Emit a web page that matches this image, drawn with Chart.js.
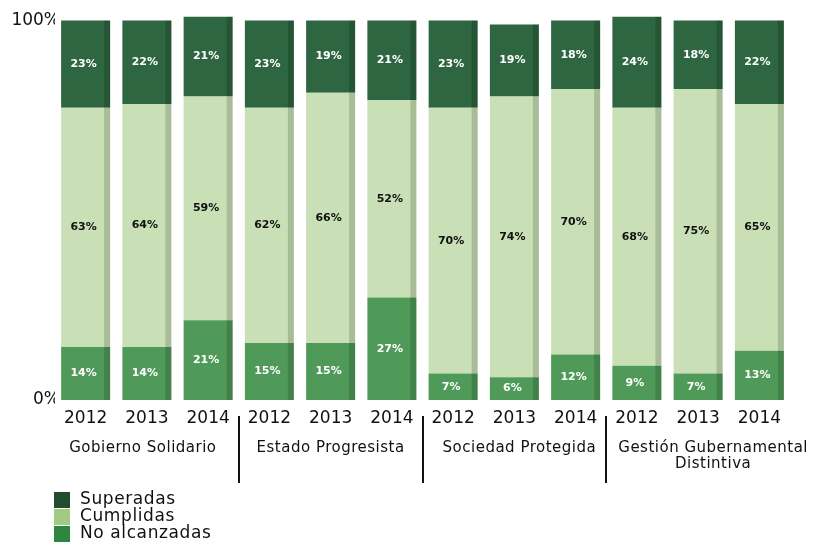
<!DOCTYPE html>
<html><head><meta charset="utf-8">
<script src="https://cdn.jsdelivr.net/npm/chart.js@4"></script>
<style>html,body{margin:0;padding:0;background:#fff;}#wrap{width:817px;height:545px;}</style>
</head><body><div id="wrap"><canvas id="c" width="817" height="545"></canvas></div>
<script>
const years = ['2012','2013','2014','2012','2013','2014','2012','2013','2014','2012','2013','2014'];
const groups = ['Gobierno Solidario','Estado Progresista','Sociedad Protegida','Gestión Gubernamental|Distintiva'];
const noAlcanzadas = [14,14,21,15,15,27,7,6,12,9,7,13];
const cumplidas    = [63,64,59,62,66,52,70,74,70,68,75,65];
const superadas    = [23,22,21,23,19,21,23,19,18,24,18,22];
const yTicks = [0,100];
const FONT = '"DejaVu Sans", "Noto Sans", sans-serif';
const groupShift = [-4, 0, 5, 15];

const sidePlugin = {
  id:'side',
  afterDatasetsDraw(chart){
    const ctx = chart.ctx;
    chart.data.datasets.forEach((ds,i)=>{
      const meta = chart.getDatasetMeta(i);
      meta.data.forEach(bar=>{
        const w = 6;
        const x = bar.x + bar.width/2 - w;
        const top = Math.min(bar.y, bar.base), h = Math.abs(bar.base - bar.y);
        ctx.save();
        ctx.fillStyle = 'rgba(0,0,0,0.16)';
        ctx.fillRect(x, top, w, h);
        ctx.restore();
      });
    });
  }
};
const labelPlugin = {
  id:'vals',
  afterDatasetsDraw(chart){
    const ctx = chart.ctx;
    ctx.save();
    ctx.font = 'bold 11px ' + FONT;
    ctx.textAlign='center'; ctx.textBaseline='middle';
    chart.data.datasets.forEach((ds,i)=>{
      const meta = chart.getDatasetMeta(i);
      meta.data.forEach((bar,j)=>{
        ctx.fillStyle = ds.labelColor;
        ctx.fillText(ds.data[j]+'%', bar.x-2, (bar.y+bar.base)/2);
      });
    });
    ctx.restore();
  }
};
const groupPlugin = {
  id:'groups',
  afterDraw(chart){
    const ctx = chart.ctx, xs = chart.scales.x;
    ctx.save();
    ctx.fillStyle='#111'; ctx.font='15px '+FONT; ctx.textAlign='center'; ctx.textBaseline='middle';
    ctx.letterSpacing = '0.5px';
    groups.forEach((g,i)=>{
      const cx = (xs.getPixelForValue(i*3) + xs.getPixelForValue(i*3+2))/2 + groupShift[i];
      const lines = g.split('|');
      lines.forEach((l,k)=>ctx.fillText(l, cx, 448 + k*16));
    });
    ctx.strokeStyle='#111'; ctx.lineWidth=2;
    for(let i=1;i<groups.length;i++){
      const x = Math.round((xs.getPixelForValue(i*3-1)+xs.getPixelForValue(i*3))/2);
      ctx.beginPath(); ctx.moveTo(x,416); ctx.lineTo(x,483); ctx.stroke();
    }
    // legend
    ctx.font='17px '+FONT; ctx.textAlign='left';
    ctx.letterSpacing = '0.6px';
    const ds = chart.data.datasets.slice().reverse();
    ds.forEach((d,k)=>{
      const y = 492 + k*17;
      ctx.fillStyle = d.legendColor;
      ctx.fillRect(54, y, 16, 16);
      ctx.fillStyle='#111';
      ctx.fillText(d.label, 80, y+8);
    });
    ctx.restore();
  }
};

new Chart(document.getElementById('c'), {
  type:'bar',
  data:{
    labels: years,
    datasets:[
      {label:'No alcanzadas', data:noAlcanzadas, backgroundColor:'#4f9a59', legendColor:'#2e8540', labelColor:'#fff'},
      {label:'Cumplidas', data:cumplidas, backgroundColor:'#c9e0b6', legendColor:'#9fcc82', labelColor:'#111'},
      {label:'Superadas', data:superadas, backgroundColor:'#2d6640', legendColor:'#1f4d2e', labelColor:'#fff'}
    ]
  },
  options:{
    responsive:false, animation:false,
    layout:{padding:{top:13,right:27,left:0,bottom:0}},
    plugins:{legend:{display:false}, tooltip:{enabled:false}},
    datasets:{bar:{barPercentage:0.8, categoryPercentage:1.0, borderWidth:0}},
    scales:{
      x:{stacked:true, grid:{display:false}, border:{display:false},
         ticks:{color:'#111', font:{size:17, family:FONT}, padding:0, maxRotation:0, autoSkip:false},
         afterFit(s){ s.height = 145; }},
      y:{stacked:true, min:0, max:102, grid:{display:false}, border:{display:false},
         afterBuildTicks(s){ s.ticks = yTicks.map(v=>({value:v})); },
         ticks:{color:'#111', font:{size:17, family:FONT}, padding:-13, callback:v=>v+'%'},
         afterFit(s){ s.width = 55; }}
    }
  },
  plugins:[sidePlugin,labelPlugin,groupPlugin]
});
</script></body></html>
